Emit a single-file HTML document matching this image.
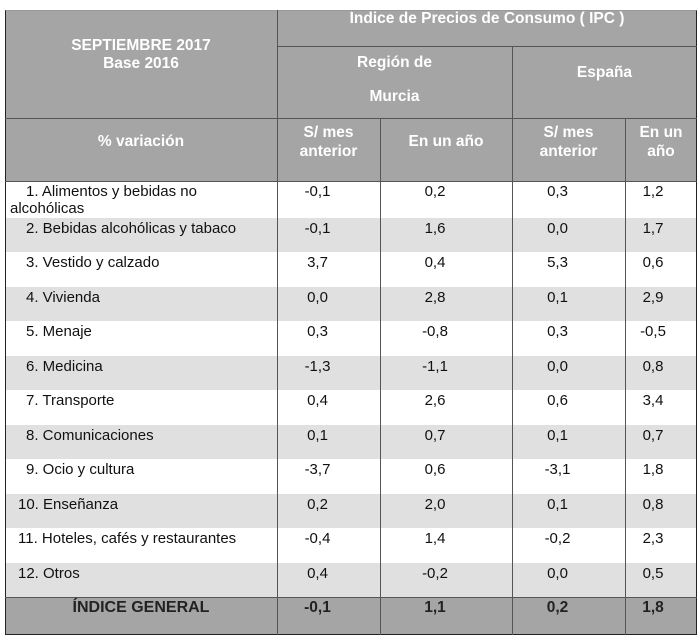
<!DOCTYPE html>
<html><head><meta charset="utf-8"><style>
body{margin:0;background:#fff;width:700px;height:640px;position:relative;font-family:"Liberation Sans",sans-serif;}
.a{position:absolute;box-sizing:border-box;}
.h{color:#fff;font-weight:bold;font-size:15.5px;text-align:center;line-height:20px;}
.t{font-size:15px;color:#111;line-height:17px;}
.v{position:absolute;width:1px;background:#555;}
.hl{position:absolute;height:1px;background:#555;}
</style></head><body>
<div class="a" style="left:5px;top:10px;width:692px;height:171px;background:#a5a5a5"></div>
<div class="a" style="left:5px;top:597px;width:692px;height:37px;background:#a5a5a5"></div>
<div id="rows"></div>
<script>
(function(){
var data=[["1. Alimentos y bebidas no<br>alcohólicas","-0,1","0,2","0,3","1,2"],
["2. Bebidas alcohólicas y tabaco","-0,1","1,6","0,0","1,7"],
["3. Vestido y calzado","3,7","0,4","5,3","0,6"],
["4. Vivienda","0,0","2,8","0,1","2,9"],
["5. Menaje","0,3","-0,8","0,3","-0,5"],
["6. Medicina","-1,3","-1,1","0,0","0,8"],
["7. Transporte","0,4","2,6","0,6","3,4"],
["8. Comunicaciones","0,1","0,7","0,1","0,7"],
["9. Ocio y cultura","-3,7","0,6","-3,1","1,8"],
["10. Enseñanza","0,2","2,0","0,1","0,8"],
["11. Hoteles, cafés y restaurantes","-0,4","1,4","-0,2","2,3"],
["12. Otros","0,4","-0,2","0,0","0,5"]];
var cols=[[277,380],[380,512],[512,625],[625,697]];
var s="";
for(var i=0;i<12;i++){
 var y=i==0?181:218+(i-1)*34.45, ht=i==0?37:34.45;
 if(i%2==1) s+='<div class="a" style="left:5px;top:'+y+'px;width:692px;height:'+ht+'px;background:#e0e0e0"></div>';
 s+='<div class="a t" style="left:10px;top:'+(y+2)+'px;text-indent:'+(i<9?16:8)+'px">'+data[i][0]+'</div>';
 for(var c=0;c<4;c++){
  var w=cols[c][1]-cols[c][0];
  s+='<div class="a t" style="left:'+cols[c][0]+'px;top:'+(y+2)+'px;width:'+w+'px;text-align:center;padding-right:'+(c==3?16:22)+'px">'+data[i][c+1]+'</div>';
 }
}
var g=["-0,1","1,1","0,2","1,8"];
s+='<div class="a h" style="left:5px;top:598px;width:272px;color:#222;font-size:16px">ÍNDICE GENERAL</div>';
for(var c=0;c<4;c++){var w=cols[c][1]-cols[c][0];s+='<div class="a h" style="left:'+cols[c][0]+'px;top:598px;width:'+w+'px;color:#222;padding-right:'+(c==3?16:22)+'px">'+g[c]+'</div>';}
document.getElementById('rows').innerHTML=s;
})();
</script>
<div class="a h" style="left:277px;top:9px;width:420px">Índice de Precios de Consumo ( IPC )</div>
<div class="a h" style="left:5px;top:37px;width:272px;line-height:18px">SEPTIEMBRE 2017<br>Base 2016</div>
<div class="a h" style="left:277px;top:46px;width:235px;line-height:34px">Región de<br>Murcia</div>
<div class="a h" style="left:512px;top:63px;width:185px">España</div>
<div class="a h" style="left:5px;top:132px;width:272px">% variación</div>
<div class="a h" style="left:277px;top:123px;width:103px;line-height:19px">S/ mes<br>anterior</div>
<div class="a h" style="left:380px;top:132px;width:132px">En un año</div>
<div class="a h" style="left:512px;top:123px;width:113px;line-height:19px">S/ mes<br>anterior</div>
<div class="a h" style="left:625px;top:123px;width:72px;line-height:19px">En un<br>año</div>
<div class="a" style="left:5px;top:10px;width:692px;height:625px;border:1px solid #222;border-top-color:#999"></div>
<div class="v" style="left:277px;top:10px;height:625px"></div>
<div class="v" style="left:512px;top:46px;height:589px"></div>
<div class="v" style="left:380px;top:118px;height:517px"></div>
<div class="v" style="left:625px;top:118px;height:517px"></div>
<div class="hl" style="left:277px;top:46px;width:420px"></div>
<div class="hl" style="left:5px;top:118px;width:692px"></div>
<div class="hl" style="left:5px;top:181px;width:692px"></div>
<div class="hl" style="left:5px;top:597px;width:692px"></div>
</body></html>
